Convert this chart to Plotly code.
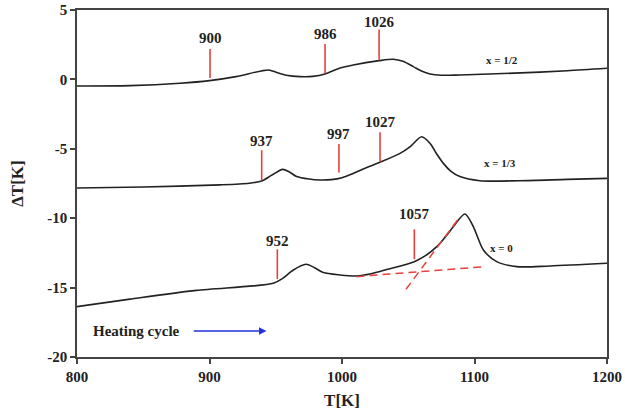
import plotly.graph_objects as go

# ---- data ----
T_half = [800, 840, 877.7, 900, 920, 944.4, 950.7, 958, 968.3, 978, 987.2, 998, 1008.5, 1028, 1038.7, 1046, 1053.8, 1060, 1066.4, 1075, 1089, 1130, 1170, 1200]
dT_half = [-0.48, -0.45, -0.28, -0.09, 0.2, 0.68, 0.5, 0.3, 0.2, 0.22, 0.39, 0.8, 1.04, 1.35, 1.45, 1.3, 0.92, 0.6, 0.39, 0.3, 0.32, 0.45, 0.62, 0.8]

T_third = [800, 850, 907.9, 930, 939.4, 947, 955.2, 960, 965.8, 975, 983.4, 992, 1000, 1008, 1016, 1028.7, 1043.8, 1052, 1060.1, 1066.4, 1071, 1076.5, 1082, 1089, 1104, 1134, 1170, 1200]
dT_third = [-7.82, -7.75, -7.6, -7.48, -7.32, -6.9, -6.48, -6.65, -7.0, -7.18, -7.25, -7.22, -7.08, -6.8, -6.45, -5.97, -5.33, -4.8, -4.13, -4.6, -5.3, -6.05, -6.6, -7.0, -7.3, -7.3, -7.2, -7.13]

T_zero = [800, 840, 890, 948.2, 955, 963, 972.8, 979, 985.9, 998.5, 1011, 1022, 1033.7, 1054.6, 1063, 1071.5, 1078, 1084, 1092.8, 1099.1, 1106.7, 1116.8, 1131.9, 1157, 1200]
dT_zero = [-16.37, -15.83, -15.2, -14.69, -14.35, -13.75, -13.32, -13.55, -13.92, -14.09, -14.16, -14.0, -13.7, -13.13, -12.7, -12.05, -11.35, -10.61, -9.7, -10.6, -12.29, -13.13, -13.49, -13.44, -13.25]

# transition markers: label, x, line bottom, line top, label y
mark_labels = ["900", "986", "1026", "937", "997", "1027", "952", "1057"]
mark_T = [900.4, 987.2, 1028, 939.4, 997.7, 1028.7, 951.2, 1054.6]
mark_lo = [0.1, 0.45, 1.42, -7.25, -6.7, -5.93, -14.38, -12.96]
mark_hi = [2.19, 2.55, 3.6, -5.1, -4.65, -3.8, -12.24, -10.8]
mark_ly = [3.0, 3.3, 4.16, -4.45, -3.9, -3.1, -11.64, -9.7]

# tangent construction for x = 0 (dashed)
base_T = [1011, 1108]
base_dT = [-14.21, -13.49]
slope_T = [1048.3, 1089]
slope_dT = [-15.12, -9.9]

series_labels = ["x = 1/2", "x = 1/3", "x = 0"]
series_label_T = [1121, 1119, 1120]
series_label_dT = [1.4, -6.05, -12.17]

x_ticks = [800, 900, 1000, 1100, 1200]
x_ticktext = ["800", "900", "1000", "1100", "1200"]
y_ticks = [5, 0, -5, -10, -15, -20]
y_ticktext = ["5", "0", "-5", "-10", "-15", "-20"]

FONT = "Liberation Serif"
RED = "#e8403c"
BLACK = "#222222"

fig = go.Figure()
for T, d in [(T_half, dT_half), (T_third, dT_third), (T_zero, dT_zero)]:
    fig.add_trace(go.Scatter(x=T, y=d, mode="lines",
                             line=dict(color=BLACK, width=1.6, shape="spline", smoothing=0.8),
                             showlegend=False, hoverinfo="skip"))

for lab, t, lo, hi, ly in zip(mark_labels, mark_T, mark_lo, mark_hi, mark_ly):
    fig.add_trace(go.Scatter(x=[t, t], y=[lo, hi], mode="lines",
                             line=dict(color=RED, width=1.6), showlegend=False, hoverinfo="skip"))
    fig.add_annotation(x=t, y=ly, text=lab, showarrow=False,
                       font=dict(family=FONT, size=15, color=BLACK, weight="bold"),
                       xanchor="center", yanchor="middle")

fig.add_trace(go.Scatter(x=base_T, y=base_dT, mode="lines",
                         line=dict(color=RED, width=1.5, dash="8px,5px"), showlegend=False, hoverinfo="skip"))
fig.add_trace(go.Scatter(x=slope_T, y=slope_dT, mode="lines",
                         line=dict(color=RED, width=1.5, dash="8px,5px"), showlegend=False, hoverinfo="skip"))

for lab, t, d in zip(series_labels, series_label_T, series_label_dT):
    fig.add_annotation(x=t, y=d, text=lab, showarrow=False,
                       font=dict(family=FONT, size=11, color=BLACK, weight="bold"),
                       xanchor="center", yanchor="middle")

fig.add_annotation(x=845, y=-18.13, text="Heating cycle", showarrow=False,
                   font=dict(family=FONT, size=15, color=BLACK, weight="bold"),
                   xanchor="center", yanchor="middle")
fig.add_annotation(x=943, y=-18.13, ax=887, ay=-18.13, xref="x", yref="y", axref="x", ayref="y",
                   text="", showarrow=True, arrowhead=2, arrowsize=1, arrowwidth=1.5, arrowcolor="#2233dd")

axis_common = dict(showline=True, linecolor="#444444", linewidth=1.5, mirror=True,
                   ticks="outside", ticklen=5, tickwidth=1.5, tickcolor="#444444",
                   showgrid=False, zeroline=False, automargin=False,
                   tickfont=dict(family=FONT, size=15, color=BLACK, weight="bold"))

fig.update_xaxes(range=[800, 1200], tickvals=x_ticks, ticktext=x_ticktext,
                 title=dict(text="T[K]", font=dict(family=FONT, size=17, color=BLACK, weight="bold"), standoff=10),
                 **axis_common)
fig.update_yaxes(range=[-20, 5], tickvals=y_ticks, ticktext=y_ticktext,
                 title=dict(text="ΔT[K]", font=dict(family=FONT, size=17, color=BLACK, weight="bold"), standoff=19),
                 **axis_common)

fig.update_layout(width=625, height=416, margin=dict(l=77, r=18, t=10, b=59),
                  plot_bgcolor="white", paper_bgcolor="white")

fig.write_html("out.html", config={"displayModeBar": False},
               post_script="document.body.style.margin='0';document.body.style.padding='0';")
